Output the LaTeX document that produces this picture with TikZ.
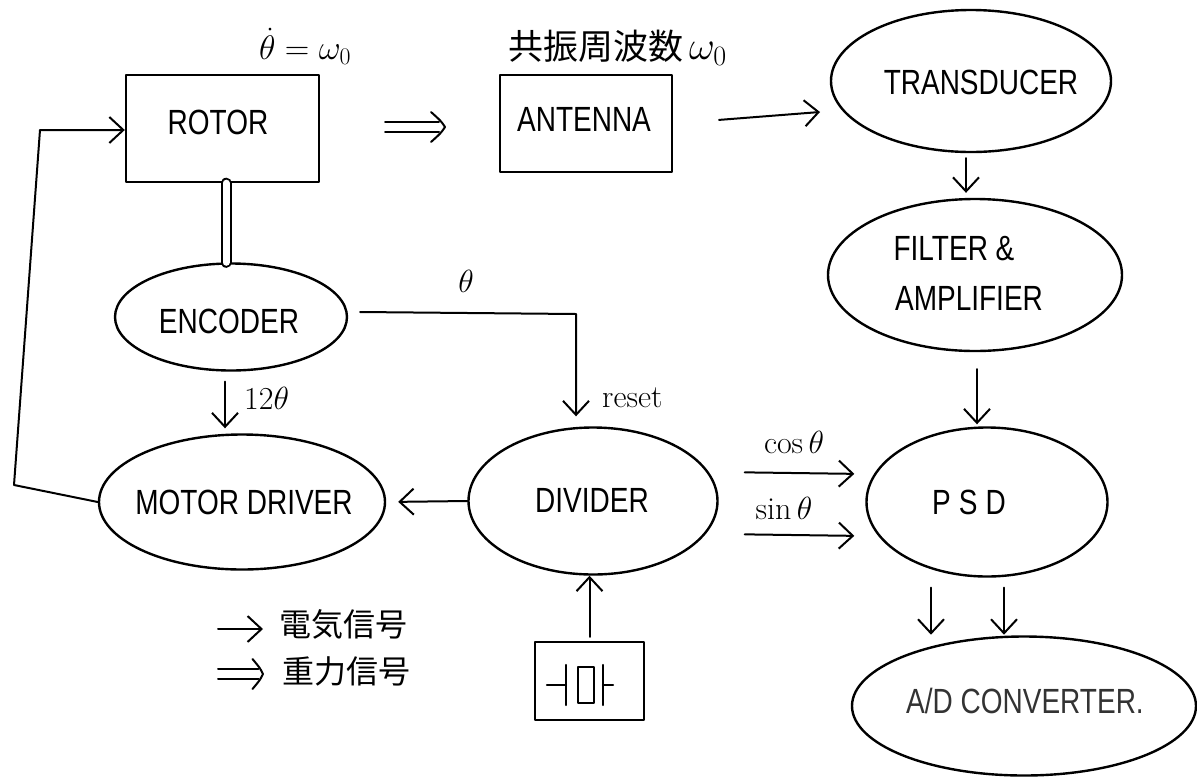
\RequirePackage{fix-cm}
\documentclass[tikz,border=0pt]{standalone}
\usepackage{fontspec}
\newfontfamily\hand[FakeStretch=0.8]{Liberation Sans}
\newfontfamily\cjk{Noto Sans CJK JP}
\usetikzlibrary{shapes.geometric,arrows.meta,calc}
\begin{document}
\begin{tikzpicture}[x=1pt,y=-1pt,line cap=round,line join=round,
  blk/.style={draw,line width=2.4pt,inner sep=0pt},
  oval/.style={blk,ellipse},
  sq/.style={blk,rectangle},
  lbl/.style={font=\hand\fontsize{35}{40}\selectfont,inner sep=0pt,align=center},
  mth/.style={font=\fontsize{32}{36}\selectfont,inner sep=0pt},
  jp/.style={font=\cjk\fontsize{32}{36}\selectfont,inner sep=0pt},
  tip/.style={-{Straight Barb[length=14pt,width=26pt,line width=2pt]}},
  sig/.style={line width=2pt,tip},
  dblarrow/.pic={
    \draw[line width=2pt] (0,-5) -- (54,-5);
    \draw[line width=2pt] (0,5) -- (54,5);
    \draw[line width=2pt] (46,-15) .. controls (56,-6) .. (60,0) .. controls (56,6) .. (46,15);
  }]
\useasboundingbox (0,0) rectangle (1197,780);

% boxes and ovals
\node[sq,minimum width=193pt,minimum height=107pt] (rotor) at (222.5,128.5) {};
\node[sq,minimum width=172pt,minimum height=97pt] (ant) at (586,123.5) {};
\node[oval,minimum width=280pt,minimum height=142pt] (tr) at (971,81) {};
\node[oval,minimum width=294pt,minimum height=152pt] (fa) at (975,275) {};
\node[oval,minimum width=241pt,minimum height=149pt] (psd) at (987,502) {};
\node[oval,minimum width=344pt,minimum height=139pt] (ad) at (1024,706) {};
\node[oval,minimum width=249pt,minimum height=147pt] (div) at (593,501) {};
\node[oval,minimum width=286pt,minimum height=135pt] (md) at (242,502) {};
\node[oval,minimum width=232pt,minimum height=107pt] (enc) at (231,317) {};
\node[sq,minimum width=109pt,minimum height=78pt] (xtal) at (589.5,681) {};

% texts
\node[lbl] (tRotor) at (218,122) {ROTOR};
\node[lbl] (tAnt) at (584,119) {ANTENNA};
\node[lbl] (tTr) at (981,82) {TRANSDUCER};
\node[lbl] (tF1) at (954,249) {FILTER \&};
\node[lbl] (tF2) at (969,298) {AMPLIFIER};
\node[lbl] (tPsd) at (969,502) {P\hspace{8pt}S\hspace{8pt}D};
\node[lbl,text=black!80] (tAd) at (1025,701) {A/D CONVERTER.};
\node[lbl] (tDiv) at (592,500) {DIVIDER};
\node[lbl] (tMd) at (244,502) {MOTOR DRIVER};
\node[lbl] (tEnc) at (229,321) {ENCODER};

% crystal symbol
\draw[line width=2.2pt] (547,685) -- (566,685);
\draw[line width=2.2pt] (566,665) -- (566,705);
\draw[line width=2.2pt] (578,667) rectangle (594,703);
\draw[line width=2.2pt] (603,665) -- (603,705);
\draw[line width=2.2pt] (603,685) -- (613,685);

% labels
\node[mth,font=\fontsize{34}{38}\selectfont] (lw) at (305,46) {$\dot\theta=\omega_0$};
\node[jp,anchor=west,font=\cjk\fontsize{35}{38}\selectfont] (lres) at (508,48) {共振周波数\,{\fontsize{40}{44}\selectfont$\omega_0$}};
\node[mth] (lth) at (466,281) {$\theta$};
\node[mth,anchor=west] (l12) at (244,398) {$12\theta$};
\node[mth,anchor=west] (lreset) at (602,398) {reset};
\node[mth] (lcos) at (794,443) {$\cos\theta$};
\node[mth] (lsin) at (784,509) {$\sin\theta$};
\node[jp,anchor=west] (le) at (279,624) {電気信号};
\node[jp,anchor=west] (lg) at (282,671) {重力信号};

% connectors
\draw[line width=2pt,double,double distance=7pt] ([xshift=3.5pt]rotor.south) -- ([xshift=3.5pt]rotor.south |- enc.north);
\pic at (385,127) {dblarrow};
\draw[sig,shorten <=46pt] (ant.east) -- (820,112);
\draw[sig,shorten <=5pt,shorten >=5pt] ([xshift=-5pt]tr.south) -- ([xshift=-5pt]tr.south |- fa.north);
\draw[sig,shorten <=17pt,shorten >=2pt] ([xshift=2pt]fa.south) -- ([xshift=2pt]fa.south |- psd.north);
\draw[sig] ($(psd.south)+(-56,10)$) -- ++(0,47);
\draw[sig] ($(psd.south)+(17,10)$) -- ++(0,47);
\draw[sig,shorten <=26pt,shorten >=11pt] ([yshift=-33pt]div.east) -- ([yshift=-34pt]psd.west);
\draw[sig,shorten <=26pt,shorten >=11pt] ([yshift=29pt]div.east) -- ([yshift=28pt]psd.west);
\draw[sig,shorten >=12pt] (div.west) -- (md.east);
\draw[sig,shorten <=4pt] (xtal.north) -- (xtal.north |- div.south);
\draw[sig,shorten <=10pt,shorten >=5pt] ([xshift=-6pt]enc.south) -- ([xshift=-6pt]enc.south |- md.north);
\coordinate (tc) at (576,314);
\draw[sig,shorten >=10pt] ([xshift=12pt,yshift=5pt]enc.east) -- (tc) -- (tc |- div.north);
\draw[sig] (md.west) -- (14,485) -- (40,130) -- ($(rotor.west)+(0,1.5)$);

% legend
\coordinate (lg1) at (218,629);
\draw[sig] (lg1) -- ++(45,0);
\pic[xscale=0.75] at (218,674) {dblarrow};
\end{tikzpicture}
\end{document}
